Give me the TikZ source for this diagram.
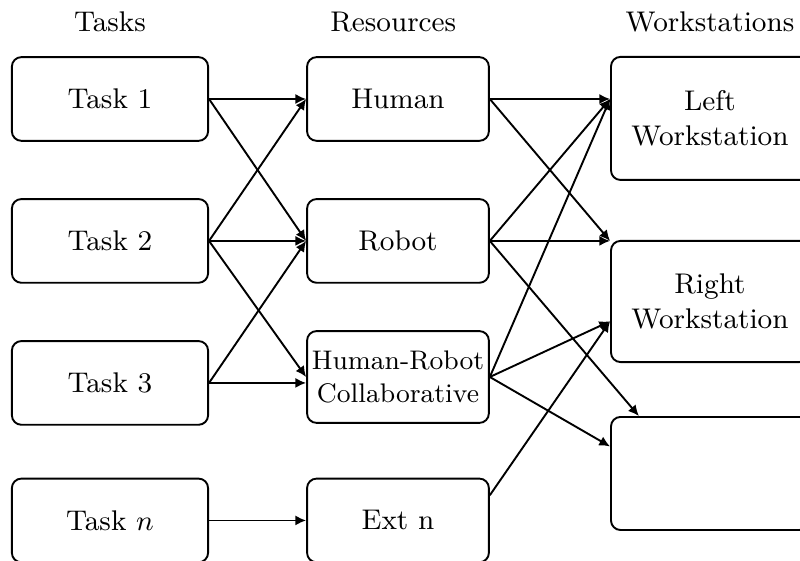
\documentclass[tikz,border=0pt]{standalone}
\usepackage{tikz}
\usepackage{amssymb, amsmath}
\usetikzlibrary{arrows.meta}

\begin{document}
\begin{tikzpicture}
\tikzstyle{every node}=[font=\small]
\tikzstyle{box}=[draw, semithick, rounded corners=3pt, align=center, inner sep=0pt]
\tikzstyle{task}=[box, minimum width=2.18cm, minimum height=0.93cm]
\tikzstyle{res}=[box, minimum width=2.02cm, minimum height=0.93cm]
\tikzstyle{ws}=[box, minimum width=2.2cm]
\tikzstyle{link}=[semithick, -{Latex[length=3.4pt, width=3.2pt]}]

\useasboundingbox (0, 0) rectangle (8.889, 6.233);

\node (tasks) at (1.222, 5.99) {Tasks};
\node (resources) at (4.37, 5.99) {Resources};
\node (stations) at (7.889, 5.99) {Workstations};

% tasks
\node[task] (t1) at (1.222, 5.133) {Task 1};
\node[task] (t2) at (1.222, 3.556) {Task 2};
\node[task] (t3) at (1.222, 1.978) {Task 3};
\node[task] (tn) at (1.222, 0.45) {Task $n$};

% resources
\node[res] (hum) at (4.422, 5.133) {Human};
\node[res] (rob) at (4.422, 3.556) {Robot};
\node[res, minimum height=1.02cm, font=\fontsize{8.5}{10.4}\selectfont] (hrc) at (4.422, 2.044) {Human-Robot\\Collaborative};
\node[res] (ext) at (4.422, 0.45) {Ext n};

% workstations
\node[ws, minimum height=1.367cm] (lws) at (7.889, 4.917) {Left\\Workstation};
\node[ws, minimum height=1.346cm] (rws) at (7.889, 2.883) {Right\\Workstation};
\node[ws, minimum height=1.256cm] (ws3) at (7.889, 0.972) {};

\coordinate (hin) at (t3.east -| hrc.west);
\coordinate (lin) at (lws.west |- hum.east);
\coordinate (rtop) at (rws.north west |- rob.east);
\coordinate (rin) at ([yshift=-0.22cm]rws.west);
\coordinate (win) at ([yshift=0.3cm]ws3.west);
\coordinate (wtop) at ([xshift=0.32cm]ws3.north west);
\coordinate (eout) at ([yshift=0.28cm]ext.east);

\draw[link] (t1.east) -- (hum.west);
\draw[link] (t1.east) -- (rob.west);
\draw[link] (t2.east) -- (hum.west);
\draw[link] (t2.east) -- (rob.west);
\draw[link] (t2.east) -- (hrc.west);
\draw[link] (t3.east) -- (rob.west);
\draw[link] (t3.east) -- (hin);
\draw[link] (tn.east) -- (ext.west);

\draw[link] (hum.east) -- (rtop);
\draw[link] (hum.east) -- (lin);
\draw[link] (rob.east) -- (lin);
\draw[link] (rob.east) -- (rtop);
\draw[link] (rob.east) -- (wtop);
\draw[link] (hrc.east) -- (lin);
\draw[link] (hrc.east) -- (rin);
\draw[link] (hrc.east) -- (win);
\draw[link] (eout) -- (rin);

\end{tikzpicture}
\end{document}
